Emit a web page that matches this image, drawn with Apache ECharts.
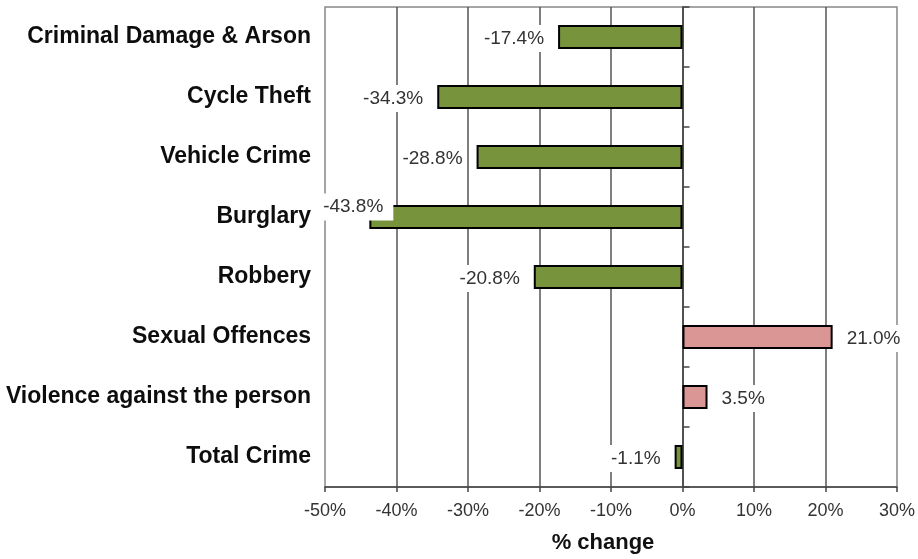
<!DOCTYPE html>
<html>
<head>
<meta charset="utf-8">
<script src="https://cdn.jsdelivr.net/npm/echarts@6/dist/echarts.min.js"></script>
<style>
  html, body { margin: 0; padding: 0; background: #fff; }
  #chart { width: 918px; height: 559px; }
</style>
</head>
<body>
<div id="chart"></div>
<script>
// Offence categories, top to bottom
const categories = [
  'Criminal Damage & Arson',
  'Cycle Theft',
  'Vehicle Crime',
  'Burglary',
  'Robbery',
  'Sexual Offences',
  'Violence against the person',
  'Total Crime'
];
// Percentage change per category
const changes = [-17.4, -34.3, -28.8, -43.8, -20.8, 21.0, 3.5, -1.1];
// Value axis range and step (percent)
const axisMin = -50;
const axisMax = 30;
const axisStep = 10;

const FONT = '"Liberation Sans", Arial, sans-serif';
const GREEN = '#77933C';
const PINK = '#D99694';

const labelBase = {
  show: true,
  fontFamily: FONT,
  fontSize: 19,
  color: '#333',
  backgroundColor: '#fff',
  padding: [4, 2, 4, 2],
  distance: 12,
  offset: [0, 1.5],
  formatter: p => p.value.toFixed(1) + '%'
};

const barData = changes.map((v, i) => {
  const item = {
    value: v,
    itemStyle: { color: v < 0 ? GREEN : PINK },
    label: Object.assign({}, labelBase, { position: v < 0 ? 'left' : 'right' })
  };
  // The longest bar leaves no room on the left, so its label sits up against the plot edge
  if (categories[i] === 'Burglary') {
    item.label.padding = [4, 10, 4, 2];
    item.label.offset = [36, -10];
  }
  return item;
});

const chart = echarts.init(document.getElementById('chart'), null, { renderer: 'canvas' });
chart.setOption({
  animation: false,
  grid: {
    left: 325, right: 20, top: 7, bottom: 71,
    show: true, borderColor: '#888', borderWidth: 1.5, backgroundColor: 'transparent'
  },
  xAxis: {
    type: 'value',
    min: axisMin, max: axisMax, interval: axisStep,
    name: '% change',
    nameLocation: 'middle',
    nameGap: 45,
    nameTextStyle: { fontFamily: FONT, fontSize: 22, fontWeight: 'bold', color: '#111', padding: [0, 16, 0, 0] },
    axisLine: { show: true, lineStyle: { color: '#444', width: 1.5 } },
    axisTick: { show: true, length: 5, lineStyle: { color: '#444', width: 1.5 } },
    axisLabel: { fontFamily: FONT, fontSize: 18, color: '#333', margin: 15, formatter: v => v + '%' },
    splitLine: { show: true, showMinLine: false, showMaxLine: false, lineStyle: { color: '#555', width: 1.5 } }
  },
  yAxis: [
    {
      type: 'category',
      data: categories,
      inverse: true,
      axisLine: { show: false },
      axisTick: { show: false },
      axisLabel: { fontFamily: FONT, fontSize: 23, fontWeight: 'bold', color: '#0d0d0d', margin: 14, padding: [3, 0, 0, 0] }
    },
    {
      type: 'category',
      data: categories,
      inverse: true,
      position: 'left',
      axisLine: { show: true, onZero: true, onZeroAxisIndex: 0, lineStyle: { color: '#444', width: 1.5 } },
      axisTick: { show: true, inside: true, length: 7, lineStyle: { color: '#444', width: 1.5 } },
      axisLabel: { show: false }
    }
  ],
  series: [{
    type: 'bar',
    data: barData,
    barWidth: 24,
    itemStyle: { borderColor: '#000', borderWidth: 2 }
  }]
});
</script>
</body>
</html>
